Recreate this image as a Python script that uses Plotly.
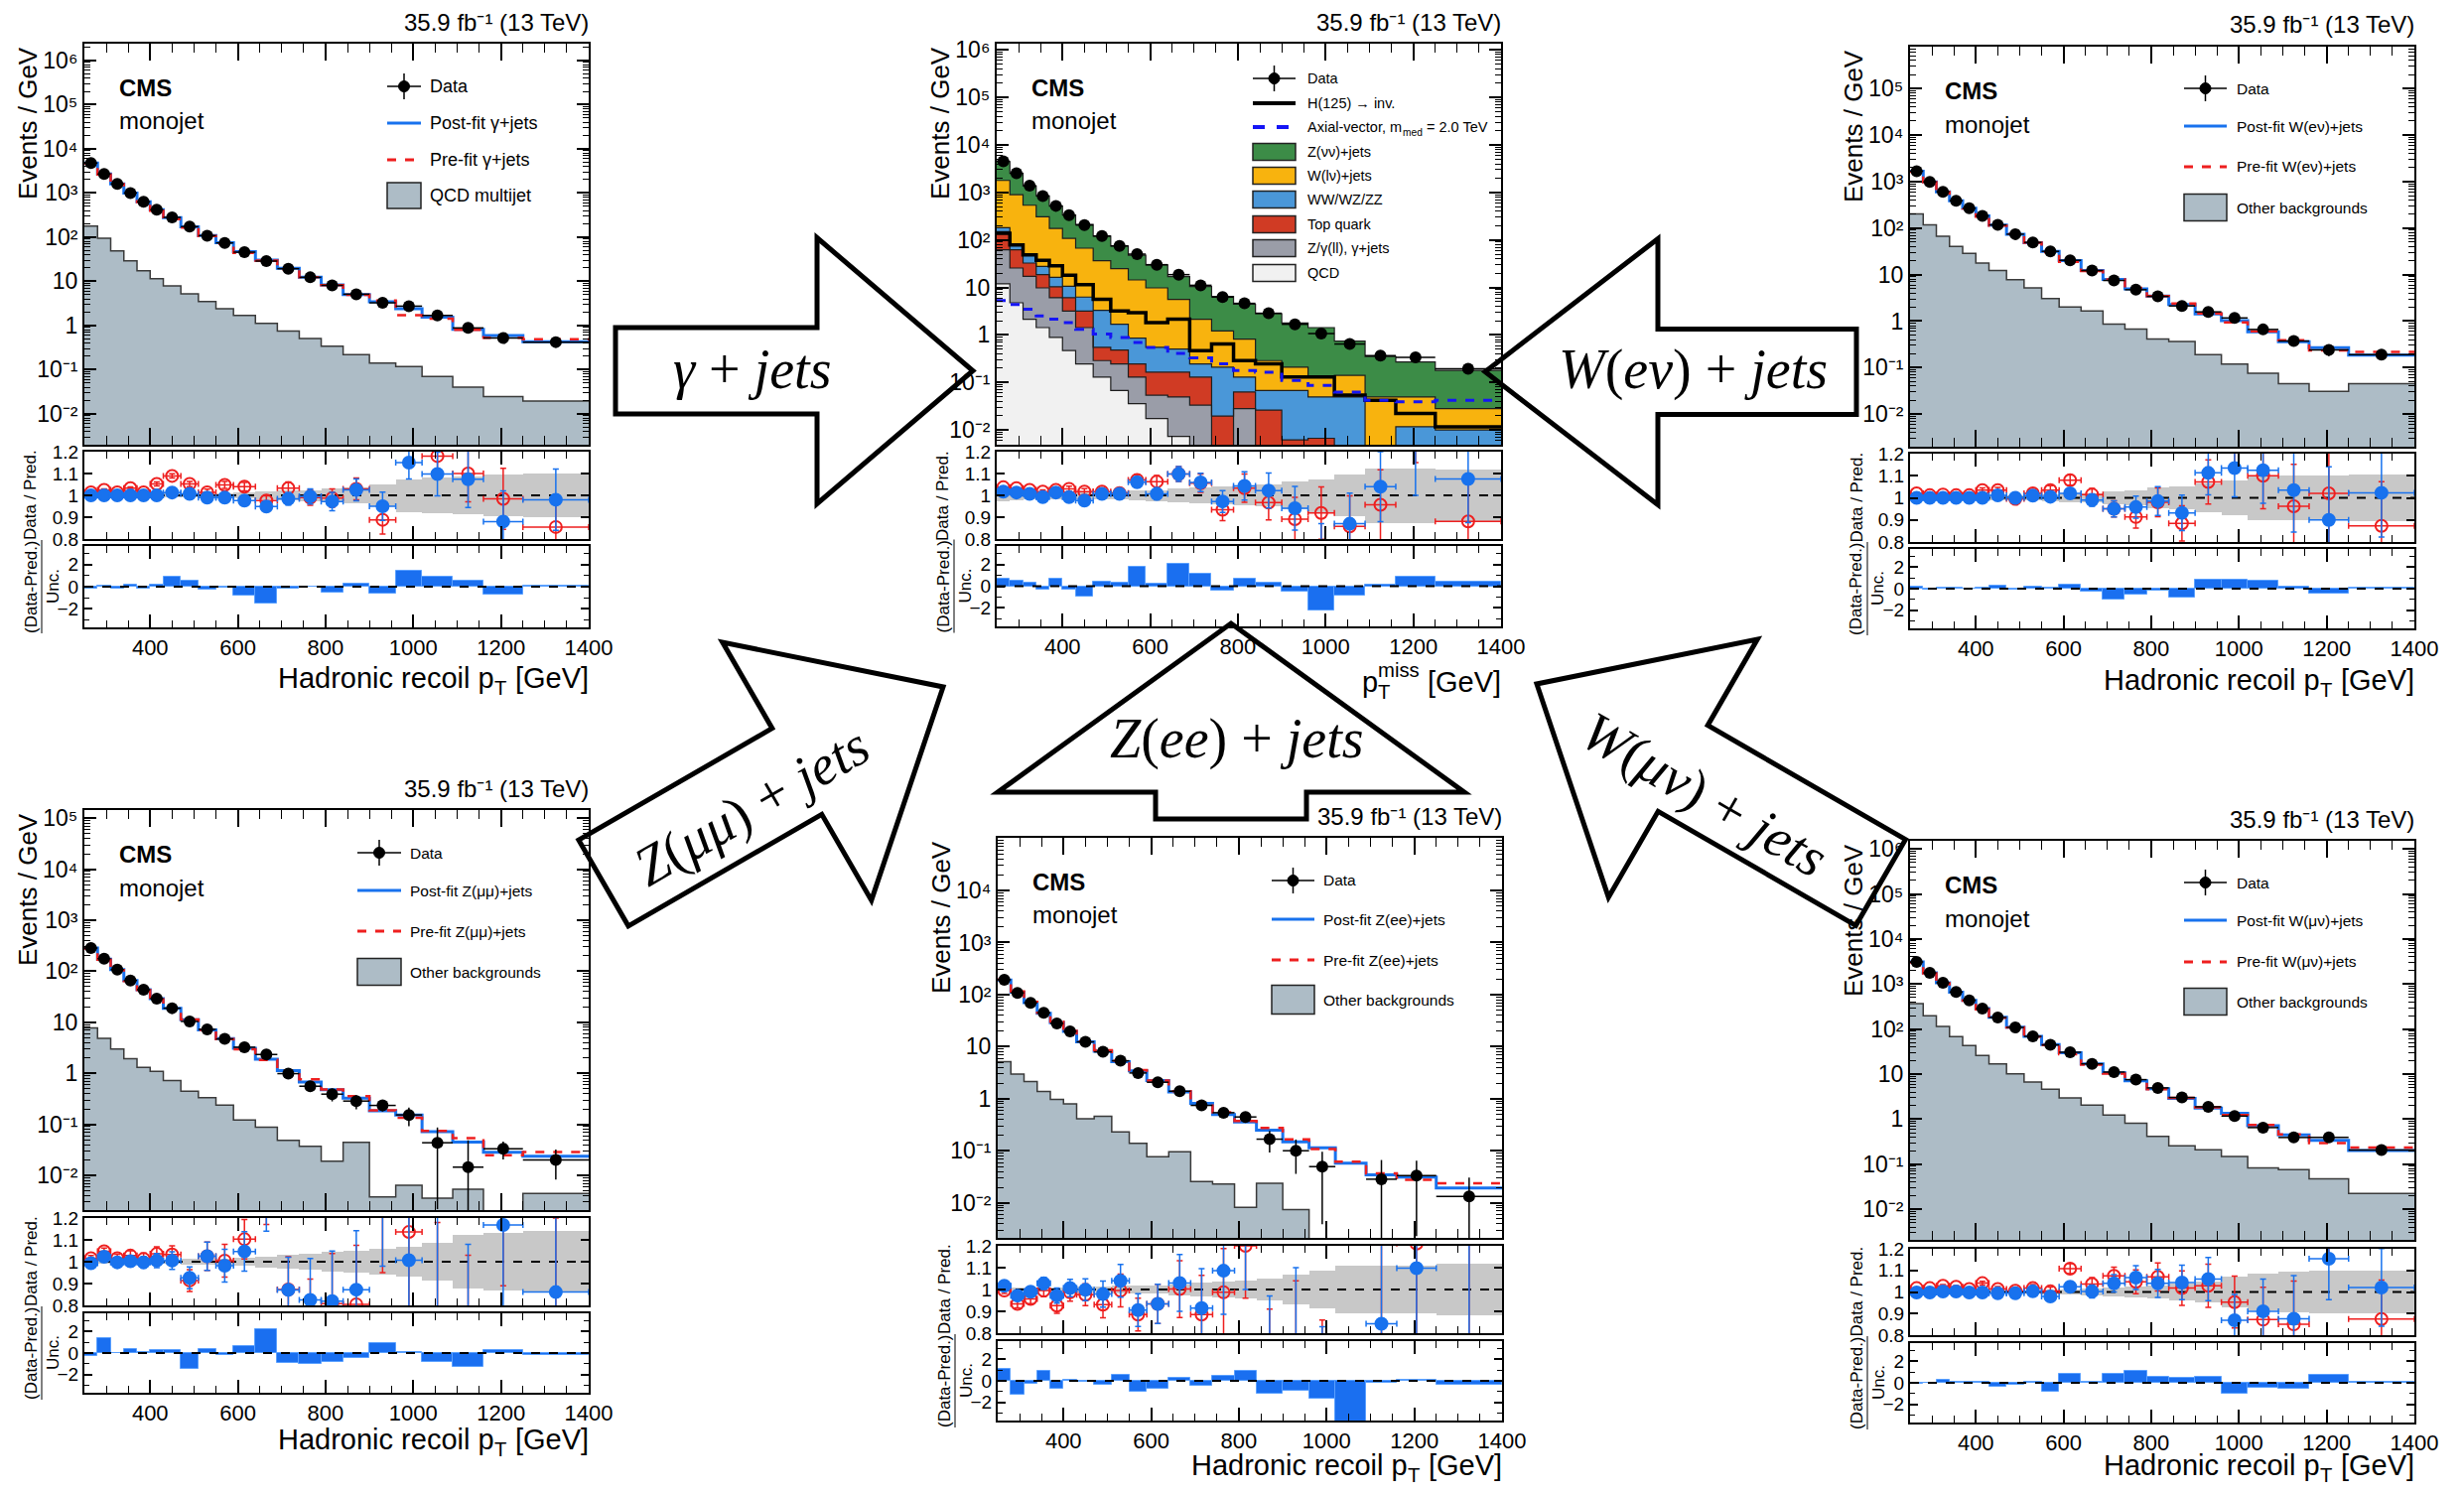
import math
import plotly.graph_objects as go

W, H = 2482, 1504

# Hadronic recoil / missing-pT binning (GeV)
EDGES = [250, 280, 310, 340, 370, 400, 430, 470, 510, 550, 590, 640,
         690, 740, 790, 840, 900, 960, 1020, 1090, 1160, 1250, 1400]
X_TICKS = [400, 600, 800, 1000, 1200, 1400]
X_TICKTEXT = ["400", "600", "800", "1000", "1200", "1400"]

# ---------------- gamma + jets control region ----------------
gj_data = [4740, 2690, 1600, 1000, 630, 416, 280, 173, 108, 74, 45.7, 28.7, 19.3, 12.3, 8.1, 5.1, 3.26, 2.74, 1.69, 0.88, 0.52, 0.42]
gj_post = [4740, 2690, 1600, 1000, 630, 416, 276, 172, 109, 75, 46.8, 30.2, 19.6, 12.4, 8.33, 4.98, 3.43, 2.38, 1.54, 0.82, 0.59, 0.43]
gj_pre = [4675, 2624, 1578, 968, 621, 395, 257, 164, 106.5, 70.6, 43.9, 29.4, 18.7, 12.4, 8.2, 4.95, 3.67, 1.71, 1.43, 0.80, 0.53, 0.49]
gj_bkg = [179, 94, 49, 29, 17.4, 11.5, 7.9, 5.2, 3.5, 2.4, 1.69, 1.12, 0.75, 0.51, 0.34, 0.22, 0.14, 0.117, 0.07, 0.04, 0.0245, 0.0194]
gj_ratio_post = [1.0, 1.0, 1.0, 1.0, 1.0, 1.0, 1.013, 1.007, 0.99, 0.99, 0.976, 0.949, 0.984, 0.995, 0.972, 1.025, 0.95, 1.15, 1.098, 1.074, 0.88, 0.98]
gj_ratio_pre = [1.014, 1.025, 1.014, 1.033, 1.014, 1.052, 1.089, 1.052, 1.014, 1.048, 1.04, 0.976, 1.033, 0.99, 0.987, 1.03, 0.888, 1.6, 1.18, 1.10, 0.984, 0.855]
gj_ratio_err = [0.003, 0.004, 0.005, 0.006, 0.007, 0.009, 0.01, 0.012, 0.014, 0.016, 0.019, 0.022, 0.028, 0.035, 0.042, 0.05, 0.065, 0.075, 0.1, 0.13, 0.14, 0.14]
gj_band = [0.005, 0.005, 0.005, 0.005, 0.005, 0.005, 0.007, 0.007, 0.007, 0.01, 0.012, 0.02, 0.022, 0.025, 0.03, 0.035, 0.05, 0.075, 0.08, 0.088, 0.095, 0.10]
gj_pull = [-0.2, 0.1, -0.15, 0.2, -0.2, 0.15, 0.9, 0.5, -0.3, -0.1, -0.8, -1.5, -0.2, 0.04, -0.5, 0.3, -0.6, 1.4, 0.9, 0.5, -0.7, 0.05]

# ---------------- signal region (stack levels are cumulative) ----------------
sr_data = [4530, 2540, 1383, 842, 521, 333, 206, 121, 75, 50.2, 30.1, 18.6, 11.1, 6.26, 4.62, 2.86, 1.68, 1.07, 0.645, 0.367, 0.339, 0.194]
sr_znn_level = [4454, 2507, 1373, 849, 514, 336, 211, 120, 74.5, 47.4, 29.9, 16.9, 10.5, 6.44, 4.43, 2.80, 1.79, 1.43, 0.741, 0.353, 0.27, 0.18]
sr_wlv_level = [1787, 897, 537, 307, 175, 108, 67, 36.5, 24.8, 14.4, 9.8, 5.6, 2.14, 1.22, 0.82, 0.289, 0.21, 0.13, 0.141, 0.0497, 0.0497, 0.0283]
sr_vv_level = [181, 81, 47, 27.7, 16.4, 10.6, 6.27, 3.30, 1.68, 0.859, 0.548, 0.506, 0.246, 0.21, 0.13, 0.068, 0.068, 0.0497, 0.0497, 0.004, 0.0117, 0.01]
sr_top_level = [149, 62, 32.6, 18.6, 10.3, 6.07, 3.19, 0.548, 0.482, 0.246, 0.165, 0.165, 0.13, 0.0196, 0.063, 0.0261, 0.0062, 0.0067, 0.003, 0.002, 0.002, 0.002]
sr_zg_level = [62, 25.6, 17.2, 9.8, 6.07, 3.19, 1.43, 0.289, 0.246, 0.13, 0.054, 0.0497, 0.0333, 0.004, 0.0283, 0.003, 0.002, 0.002, 0.001, 0.001, 0.001, 0.001]
sr_qcd = [11.9, 4.76, 2.14, 1.43, 0.887, 0.468, 0.246, 0.13, 0.068, 0.036, 0.0175, 0.0073, 0.003, 0.001, 0, 0, 0, 0, 0, 0, 0, 0]
sr_hinv = [138, 78.7, 48.6, 37, 28.7, 18, 11.5, 5.6, 3.19, 2.95, 1.82, 2.14, 0.468, 0.644, 0.289, 0.246, 0.13, 0.13, 0.054, 0.0423, 0.0223, 0.0117]
sr_axial = [5.33, 4.4, 3.46, 2.51, 2.14, 1.82, 1.32, 1.04, 0.887, 0.697, 0.548, 0.411, 0.329, 0.246, 0.179, 0.165, 0.11, 0.087, 0.063, 0.0423, 0.039, 0.0423]
sr_ratio_post = [1.017, 1.013, 1.007, 0.992, 1.013, 0.992, 0.976, 1.007, 1.007, 1.06, 1.007, 1.098, 1.059, 0.972, 1.043, 1.022, 0.941, 0.75, 0.87, 1.04, 1.25, 1.075]
sr_ratio_pre = [1.037, 1.033, 1.025, 1.017, 1.025, 1.030, 1.017, 1.017, 1.01, 1.071, 1.063, 1.098, 1.056, 0.934, 1.033, 0.967, 0.891, 0.919, 0.858, 0.957, 1.4, 0.881]
sr_ratio_err = [0.004, 0.005, 0.006, 0.008, 0.01, 0.012, 0.014, 0.017, 0.02, 0.024, 0.028, 0.034, 0.042, 0.05, 0.065, 0.08, 0.1, 0.12, 0.14, 0.16, 0.25, 0.2]
sr_band = [0.025, 0.022, 0.02, 0.02, 0.02, 0.02, 0.02, 0.02, 0.02, 0.022, 0.025, 0.03, 0.035, 0.04, 0.045, 0.05, 0.065, 0.075, 0.095, 0.125, 0.125, 0.117]
sr_pull = [0.7, 0.5, 0.3, -0.3, 0.7, -0.35, -1.0, 0.4, 0.3, 1.8, 0.2, 2.1, 1.1, -0.4, 0.65, 0.3, -0.5, -2.2, -0.85, 0.15, 0.9, 0.4]

# ---------------- W(e nu) + jets control region ----------------
we_data = [1667, 986, 603, 387, 266, 182, 117, 74, 49.2, 31.6, 20.3, 12.2, 7.48, 4.73, 3.40, 2.12, 1.58, 1.17, 0.662, 0.373, 0.24, 0.19]
we_post = [1667, 986, 603, 387, 266, 182, 115.7, 74, 48.7, 31.4, 19.9, 12.3, 7.87, 4.94, 3.45, 2.27, 1.42, 1.03, 0.588, 0.36, 0.267, 0.186]
we_pre = [1634, 974, 594, 382, 263, 176, 113, 74.4, 48.2, 30.5, 18.8, 12.0, 7.87, 5.18, 3.47, 2.40, 1.47, 0.94, 0.60, 0.388, 0.235, 0.218]
we_bkg = [201, 117, 67, 40.4, 28.7, 17.8, 12.2, 7.73, 5.2, 3.04, 2.02, 1.66, 0.861, 0.673, 0.412, 0.367, 0.19, 0.12, 0.076, 0.045, 0.031, 0.045]
we_ratio_post = [1.0, 1.0, 1.0, 1.0, 1.0, 1.0, 1.011, 1.0, 1.01, 1.005, 1.02, 0.99, 0.95, 0.958, 0.985, 0.932, 1.113, 1.135, 1.125, 1.035, 0.90, 1.023]
we_ratio_pre = [1.02, 1.012, 1.015, 1.012, 1.012, 1.035, 1.035, 0.995, 1.02, 1.035, 1.08, 1.015, 0.95, 0.913, 0.98, 0.884, 1.072, 1.25, 1.10, 0.962, 1.02, 0.873]
we_ratio_err = [0.004, 0.005, 0.006, 0.007, 0.009, 0.01, 0.012, 0.014, 0.017, 0.02, 0.023, 0.028, 0.036, 0.05, 0.065, 0.08, 0.1, 0.13, 0.15, 0.19, 0.24, 0.2]
we_band = [0.008, 0.008, 0.008, 0.008, 0.008, 0.01, 0.01, 0.012, 0.013, 0.015, 0.018, 0.022, 0.03, 0.035, 0.045, 0.05, 0.065, 0.08, 0.1, 0.1, 0.1, 0.105]
we_pull = [0.2, -0.1, 0.05, 0.05, 0.03, 0.1, 0.3, -0.05, 0.2, 0.05, 0.35, -0.3, -1.0, -0.6, -0.2, -0.8, 0.85, 0.85, 0.7, 0.15, -0.45, 0.05]

# ---------------- Z(mu mu) + jets control region ----------------
zm_data = [285, 177, 108, 66, 43.5, 29.1, 18.9, 10.4, 7.27, 4.72, 3.25, 2.34, 0.986, 0.559, 0.391, 0.286, 0.235, 0.153, 0.0436, 0.0145, 0.0333, 0.0201]
zm_post = [287, 173, 108, 65.9, 43.6, 29.0, 18.8, 11.2, 7.09, 4.81, 3.10, 1.89, 1.13, 0.678, 0.477, 0.328, 0.184, 0.152, 0.072, 0.045, 0.0285, 0.0237]
zm_pre = [280.5, 169, 106, 64.2, 42.9, 28.1, 18.3, 11.4, 7.09, 4.70, 2.95, 1.84, 1.13, 0.764, 0.484, 0.355, 0.188, 0.135, 0.0746, 0.0537, 0.0248, 0.0288]
zm_bkg = [7.8, 4.86, 3.01, 1.93, 1.31, 1.09, 0.721, 0.447, 0.332, 0.239, 0.122, 0.088, 0.0484, 0.037, 0.0189, 0.0443, 0.00378, 0.00638, 0.00357, 0.00533, 0, 0.0044]
zm_ratio_post = [0.993, 1.023, 0.997, 1.002, 0.997, 1.005, 1.005, 0.926, 1.025, 0.982, 1.047, 1.24, 0.871, 0.825, 0.819, 0.872, 1.28, 1.007, 0.61, 0.32, 1.168, 0.861]
zm_ratio_pre = [1.016, 1.048, 1.016, 1.028, 1.013, 1.036, 1.033, 0.914, 1.025, 1.005, 1.103, 1.27, 0.873, 0.73, 0.808, 0.805, 1.25, 1.136, 0.58, 0.27, 1.34, 0.70]
zm_ratio_err = [0.012, 0.015, 0.018, 0.022, 0.027, 0.032, 0.04, 0.05, 0.065, 0.075, 0.09, 0.1, 0.15, 0.19, 0.23, 0.27, 0.3, 0.4, 0.6, 0.76, 0.45, 0.5]
zm_band = [0.008, 0.008, 0.008, 0.008, 0.008, 0.01, 0.01, 0.012, 0.013, 0.015, 0.02, 0.025, 0.03, 0.035, 0.045, 0.05, 0.06, 0.07, 0.085, 0.122, 0.13, 0.14]
zm_pull = [-0.25, 1.4, 0.03, 0.35, 0.1, 0.25, 0.25, -1.45, 0.4, -0.2, 0.65, 2.2, -0.95, -1.0, -0.85, -0.5, 0.9, 0.05, -0.85, -1.3, 0.25, -0.15]

# ---------------- Z(ee) + jets control region ----------------
ze_data = [193, 108, 69.4, 44.8, 28.0, 19.7, 12.4, 7.97, 5.37, 3.13, 2.08, 1.40, 0.747, 0.541, 0.448, 0.168, 0.1007, 0.0499, 0, 0.0286, 0.0336, 0.0134]
ze_post = [190, 111, 70.1, 43.6, 28.8, 19.6, 12.4, 8.14, 5.16, 3.45, 2.23, 1.36, 0.816, 0.498, 0.36, 0.25, 0.15, 0.115, 0.0578, 0.0347, 0.0313, 0.0193]
ze_pre = [194, 115.6, 72.5, 45, 30.2, 20.0, 12.7, 8.56, 5.40, 3.54, 2.23, 1.40, 0.844, 0.548, 0.373, 0.276, 0.166, 0.108, 0.0622, 0.037, 0.0278, 0.024]
ze_bkg = [5.14, 2.99, 2.14, 1.38, 0.97, 0.803, 0.416, 0.46, 0.232, 0.139, 0.0775, 0.0964, 0.0259, 0.023, 0.00826, 0.024, 0.00746, 0, 0, 0, 0, 0]
ze_ratio_post = [1.017, 0.972, 0.99, 1.028, 0.972, 1.007, 0.999, 0.979, 1.04, 0.906, 0.934, 1.03, 0.915, 1.086, 1.24, 0.67, 0.67, 0.43, 0, 0.843, 1.098, 0.69]
ze_ratio_pre = [0.995, 0.934, 0.957, 0.995, 0.926, 0.987, 0.976, 0.931, 0.995, 0.885, 0.934, 1.002, 0.885, 0.987, 1.2, 0.61, 0.61, 0.46, 0, 0.77, 1.21, 0.56]
ze_ratio_err = [0.013, 0.018, 0.022, 0.028, 0.035, 0.04, 0.05, 0.06, 0.075, 0.075, 0.09, 0.13, 0.18, 0.2, 0.24, 0.3, 0.43, 0.4, 0, 1.1, 1.0, 0.9]
ze_band = [0.01, 0.01, 0.01, 0.01, 0.01, 0.012, 0.013, 0.015, 0.016, 0.018, 0.02, 0.025, 0.03, 0.035, 0.04, 0.05, 0.07, 0.085, 0.11, 0.11, 0.11, 0.12]
ze_pull = [1.1, -1.3, -0.25, 0.9, -0.75, 0.1, -0.05, -0.35, 0.55, -1.05, -0.75, 0.3, -0.5, 0.45, 0.9, -1.2, -0.9, -1.7, -4.0, -0.2, 0.1, -0.4]

# ---------------- W(mu nu) + jets control region ----------------
wm_data = [3090, 1770, 1067, 664, 435, 285, 181, 109, 69, 44.5, 30.6, 16.9, 11.1, 7.54, 4.94, 3.03, 1.88, 1.17, 0.65, 0.392, 0.392, 0.206]
wm_post = [3096, 1774, 1065, 663, 436, 286, 182, 110, 68.8, 45.5, 29.9, 16.9, 10.7, 7.07, 4.75, 2.90, 1.77, 1.35, 0.714, 0.447, 0.34, 0.202]
wm_pre = [3035, 1739, 1037, 648, 429, 274, 178.5, 108.3, 67.8, 44.4, 27.6, 16.3, 10.3, 7.2, 4.62, 2.98, 1.83, 1.23, 0.745, 0.461, 0.295, 0.235]
wm_bkg = [367, 197, 115, 67.8, 43, 25.9, 16.9, 10.2, 6.7, 4.62, 2.97, 2.05, 1.24, 0.81, 0.412, 0.257, 0.21, 0.149, 0.0826, 0.0759, 0.0473, 0.0225]
wm_ratio_post = [0.998, 0.998, 1.002, 1.002, 0.998, 0.998, 0.994, 0.994, 1.003, 0.979, 1.024, 1.002, 1.04, 1.067, 1.04, 1.044, 1.06, 0.869, 0.91, 0.876, 1.154, 1.021]
wm_ratio_pre = [1.018, 1.018, 1.029, 1.024, 1.014, 1.041, 1.014, 1.006, 1.018, 1.003, 1.108, 1.037, 1.075, 1.047, 1.07, 1.018, 1.029, 0.953, 0.872, 0.85, 1.33, 0.875]
wm_ratio_err = [0.003, 0.004, 0.005, 0.006, 0.007, 0.009, 0.011, 0.013, 0.016, 0.02, 0.023, 0.03, 0.04, 0.055, 0.065, 0.08, 0.1, 0.12, 0.15, 0.2, 0.19, 0.18]
wm_band = [0.005, 0.005, 0.005, 0.005, 0.005, 0.005, 0.006, 0.007, 0.008, 0.01, 0.012, 0.015, 0.02, 0.025, 0.03, 0.04, 0.05, 0.07, 0.085, 0.095, 0.1, 0.1]
wm_pull = [-0.05, 0.02, 0.3, 0.1, 0.05, 0.05, -0.4, -0.15, 0.05, -0.8, 0.8, 0.05, 0.8, 1.1, 0.6, 0.5, 0.55, -1.0, -0.5, -0.6, 0.75, 0.1]

# ---------------- styling ----------------
FONT = "Liberation Sans"
SERIF = "Liberation Serif"
C_BKG = "#adbcc6"
C_POST = "#1872ee"
C_PRE = "#ee1f1f"
C_BAND = "#c8c8c8"
C_PULL = "#1a6ff0"
C_ZNN = "#3c8c47"
C_WLV = "#f8b30e"
C_VV = "#4a97d8"
C_TOP = "#d03b24"
C_ZG = "#9a9da8"
C_QCD = "#f1f1f1"

SUPERSCRIPT = str.maketrans("0123456789-", "\u2070\u00b9\u00b2\u00b3\u2074\u2075\u2076\u2077\u2078\u2079\u207b")
LUMI = "35.9 fb" + "-1".translate(SUPERSCRIPT) + " (13 TeV)"

# Arial / Liberation Sans advance widths (1/1000 em) used to place sub/superscripts
ADV = {" ": 278, "[": 278, "]": 278, "G": 778, "e": 556, "V": 667, "T": 611, "m": 833,
       "i": 222, "s": 500, "d": 556, "p": 556}


def text_width(s, size):
    return sum(ADV[c] for c in s) * size / 1000.0


CENTERS = [(lo + hi) / 2 for lo, hi in zip(EDGES[:-1], EDGES[1:])]
WIDTHS = [hi - lo for lo, hi in zip(EDGES[:-1], EDGES[1:])]
HALF = [w / 2 for w in WIDTHS]

fig = go.Figure()
shapes = []
annotations = []
axes = {}


def P(x, y):
    """Pixel position -> paper fraction."""
    return x / W, 1 - y / H


def xdomain(l, r):
    return [l / W, r / W]


def ydomain(top, bottom):
    return [1 - bottom / H, 1 - top / H]


def ids(k):
    return ("x" if k == 1 else f"x{k}", "y" if k == 1 else f"y{k}")


def keys(k):
    return ("xaxis" if k == 1 else f"xaxis{k}", "yaxis" if k == 1 else f"yaxis{k}")


def text(x, y, s, size, xanchor="left", yanchor="middle", angle=0, family=FONT):
    ax, ay = P(x, y)
    annotations.append(dict(x=ax, y=ay, xref="paper", yref="paper", text=s, showarrow=False,
                            xanchor=xanchor, yanchor=yanchor, textangle=angle,
                            borderpad=0, borderwidth=0,
                            font=dict(family=family, size=size, color="black")))


def seg(x0, y0, x1, y1, color="black", width=1.5, dash="solid"):
    a0, b0 = P(x0, y0)
    a1, b1 = P(x1, y1)
    shapes.append(dict(type="line", xref="paper", yref="paper", x0=a0, y0=b0, x1=a1, y1=b1,
                       line=dict(color=color, width=width, dash=dash)))


def rect(x0, y0, x1, y1, fill):
    a0, b0 = P(x0, y1)
    a1, b1 = P(x1, y0)
    shapes.append(dict(type="rect", xref="paper", yref="paper", x0=a0, y0=b0, x1=a1, y1=b1,
                       fillcolor=fill, line=dict(color="#222222", width=1.5)))


def dot(xc, yc, r):
    a0, b0 = P(xc - r, yc + r)
    a1, b1 = P(xc + r, yc - r)
    shapes.append(dict(type="circle", xref="paper", yref="paper", x0=a0, y0=b0, x1=a1, y1=b1,
                       fillcolor="black", line=dict(color="black", width=1)))


def add_step(vals, xa, ya, color, width, dash="solid"):
    fig.add_trace(go.Scatter(x=EDGES, y=list(vals) + [vals[-1]], mode="lines",
                             line=dict(shape="hv", color=color, width=width, dash=dash),
                             xaxis=xa, yaxis=ya, hoverinfo="skip"))


def add_hist(vals, xa, ya, fill):
    fig.add_trace(go.Bar(x=CENTERS, y=vals, width=WIDTHS, marker=dict(color=fill, line=dict(width=0)),
                         xaxis=xa, yaxis=ya, hoverinfo="skip"))


def add_data(vals, errs, xa, ya):
    up = list(errs)
    dn = [min(e, 0.95 * v) for e, v in zip(errs, vals)]
    fig.add_trace(go.Scatter(
        x=CENTERS, y=vals, mode="markers", xaxis=xa, yaxis=ya, hoverinfo="skip",
        marker=dict(color="black", size=12),
        error_x=dict(type="data", array=HALF, color="black", thickness=1.5, width=0),
        error_y=dict(type="data", array=up, arrayminus=dn, symmetric=False,
                     color="black", thickness=1.5, width=0)))


def log_ticks(lo, hi):
    vals, txt = [], []
    for d in range(math.ceil(lo), math.floor(hi - 0.05) + 1):
        vals.append(10.0 ** d)
        if d == 0:
            txt.append("1")
        elif d == 1:
            txt.append("10")
        else:
            txt.append("10" + str(d).translate(SUPERSCRIPT))
    minor = []
    for d in range(math.floor(lo), math.ceil(hi) + 1):
        for m in range(2, 10):
            v = m * 10.0 ** d
            if lo <= math.log10(v) <= hi:
                minor.append(v)
    return vals, txt, minor


AX_COMMON = dict(showline=True, linewidth=2, linecolor="black", mirror="ticks", ticks="inside",
                 tickcolor="black", showgrid=False, zeroline=False, fixedrange=True,
                 automargin=False, tickfont=dict(family=FONT, size=22, color="black"))
MINOR_X = list(range(250, 1401, 50))


def build_axes(k0, g):
    l, r = g["x"]
    xdom = xdomain(l, r)
    # main panel
    xk, yk = keys(k0)
    xa, ya = ids(k0)
    lo, hi = g["logrange"]
    tv, tt, mv = log_ticks(lo, hi)
    axes[xk] = dict(AX_COMMON, domain=xdom, anchor=ya, range=[250, 1400], tickmode="array",
                    tickvals=X_TICKS, ticklen=17, tickwidth=1.5, showticklabels=False,
                    minor=dict(ticks="inside", ticklen=9, tickwidth=1.2, tickcolor="black",
                               tickmode="array", tickvals=MINOR_X))
    axes[yk] = dict(AX_COMMON, domain=ydomain(*g["main"]), anchor=xa,
                    type="log", range=[lo, hi], tickmode="array", tickvals=tv, ticktext=tt,
                    ticklen=12, tickwidth=1.5, tickfont=dict(family=FONT, size=23, color="black"),
                    minor=dict(ticks="inside", ticklen=6, tickwidth=1, tickcolor="black",
                               tickmode="array", tickvals=mv))
    # ratio panel
    xk, yk = keys(k0 + 1)
    xa, ya = ids(k0 + 1)
    axes[xk] = dict(AX_COMMON, domain=xdom, anchor=ya, range=[250, 1400], tickmode="array",
                    tickvals=X_TICKS, ticklen=13, tickwidth=1.5, showticklabels=False,
                    minor=dict(ticks="inside", ticklen=7, tickwidth=1.2, tickcolor="black",
                               tickmode="array", tickvals=MINOR_X))
    axes[yk] = dict(AX_COMMON, domain=ydomain(*g["ratio"]), anchor=xa,
                    range=[0.8, 1.2], tickmode="array", tickvals=[0.8, 0.9, 1.0, 1.1, 1.2],
                    ticktext=["0.8", "0.9", "1", "1.1", "1.2"], ticklen=8, tickwidth=1.5,
                    tickfont=dict(family=FONT, size=19, color="black"))
    # pull panel
    xk, yk = keys(k0 + 2)
    xa, ya = ids(k0 + 2)
    axes[xk] = dict(AX_COMMON, domain=xdom, anchor=ya, range=[250, 1400], tickmode="array",
                    tickvals=X_TICKS, ticktext=X_TICKTEXT, ticklen=13, tickwidth=1.5,
                    minor=dict(ticks="inside", ticklen=7, tickwidth=1.2, tickcolor="black",
                               tickmode="array", tickvals=MINOR_X))
    axes[yk] = dict(AX_COMMON, domain=ydomain(*g["unc"]), anchor=xa,
                    range=[-3.7, 3.7], tickmode="array", tickvals=[-2, 0, 2],
                    ticktext=["\u22122", "0", "2"], ticklen=8, tickwidth=1.5,
                    tickfont=dict(family=FONT, size=19, color="black"),
                    minor=dict(ticks="inside", ticklen=5, tickwidth=1, tickcolor="black",
                               tickmode="array", tickvals=[-3, -1, 1, 3]))


def ratio_and_pull(k0, r_post, r_pre, r_err, band, pull):
    xa, ya = ids(k0 + 1)
    fig.add_trace(go.Bar(x=CENTERS, y=[2 * u for u in band], base=[1 - u for u in band], width=WIDTHS,
                         marker=dict(color=C_BAND, line=dict(width=0)), xaxis=xa, yaxis=ya,
                         hoverinfo="skip"))
    fig.add_trace(go.Scatter(x=[250, 1400], y=[1, 1], mode="lines", xaxis=xa, yaxis=ya,
                             line=dict(color="black", width=2, dash="dash"), hoverinfo="skip"))
    for vals, color, symbol in ((r_pre, C_PRE, "circle-open"), (r_post, C_POST, "circle")):
        fig.add_trace(go.Scatter(
            x=CENTERS, y=vals, mode="markers", xaxis=xa, yaxis=ya, hoverinfo="skip",
            marker=dict(color=color, size=12, symbol=symbol, line=dict(color=color, width=2)),
            error_x=dict(type="data", array=HALF, color=color, thickness=1.5, width=3),
            error_y=dict(type="data", array=r_err, color=color, thickness=1.5, width=3)))
    xa, ya = ids(k0 + 2)
    fig.add_trace(go.Bar(x=CENTERS, y=pull, width=WIDTHS,
                         marker=dict(color=C_PULL, line=dict(color="#5aa0ff", width=1)),
                         xaxis=xa, yaxis=ya, hoverinfo="skip"))
    fig.add_trace(go.Scatter(x=[250, 1400], y=[0, 0], mode="lines", xaxis=xa, yaxis=ya,
                             line=dict(color="black", width=2, dash="dash"), hoverinfo="skip"))


def axis_title(r, y, lead, sub, sup=None, size=29):
    """Right-aligned '<lead>_{sub}^{sup} [GeV]' built from plain text pieces."""
    small = 0.7 * size
    gev_left = r - text_width("[GeV]", size)
    stack_w = max(text_width(sub, small), text_width(sup, small) if sup else 0.0)
    stack_left = gev_left - text_width(" ", size) - stack_w
    text(r, y, "[GeV]", size, xanchor="right")
    text(stack_left, y + 0.36 * size, sub, small)
    if sup:
        text(stack_left, y - 0.4 * size, sup, small)
    text(stack_left, y, lead, size, xanchor="right")


def labels(g, lead, sup=None):
    l, r = g["x"]
    top = g["main"][0]
    text(r, top - 22, LUMI, 24, xanchor="right")
    text(l + 35, top + 44, "<b>CMS</b>", 24)
    text(l + 35, top + 78, "monojet", 24)
    text(l - 57, top + 80, "Events / GeV", 26, xanchor="center", angle=-90)
    rc = (g["ratio"][0] + g["ratio"][1]) / 2
    uc = (g["unc"][0] + g["unc"][1]) / 2
    text(l - 54, rc, "Data / Pred.", 17, xanchor="center", angle=-90)
    text(l - 54, uc, "(Data-Pred.)", 17, xanchor="center", angle=-90)
    text(l - 32, uc, "Unc.", 17, xanchor="center", angle=-90)
    seg(l - 43, uc - 47, l - 43, uc + 47, "black", 1)
    axis_title(r, g["xtitle_y"], lead, "T", sup)


def legend(entries, gx0, gx1, tx, rows, size, box_hh):
    xc = (gx0 + gx1) / 2
    for (kind, label, style), y in zip(entries, rows):
        if kind == "data":
            seg(gx0, y, gx1, y, "black", 1.5)
            seg(xc, y - 13, xc, y + 13, "black", 1.5)
            dot(xc, y, 5.5)
        elif kind == "line":
            color, width, dash = style
            seg(gx0, y, gx1, y, color, width, dash)
        else:
            rect(gx0, y - box_hh, gx1, y + box_hh, style)
        if label is not None:
            text(tx, y, label, size)


GEOM = {
    "gj": dict(x=(85, 593), main=(44, 448), ratio=(455, 543), unc=(550, 632), logrange=(-2.70, 6.38), xtitle_y=683),
    "sr": dict(x=(1004, 1512), main=(44, 448), ratio=(455, 543), unc=(550, 631), logrange=(-2.31, 6.13), xtitle_y=687),
    "we": dict(x=(1924, 2432), main=(47, 450), ratio=(457, 546), unc=(553, 633), logrange=(-2.70, 5.90), xtitle_y=685),
    "zm": dict(x=(85, 593), main=(816, 1219), ratio=(1227, 1315), unc=(1323, 1403), logrange=(-2.68, 5.16), xtitle_y=1450),
    "ze": dict(x=(1005, 1513), main=(844, 1247), ratio=(1255, 1343), unc=(1351, 1431), logrange=(-2.67, 5.01), xtitle_y=1476),
    "wm": dict(x=(1924, 2432), main=(847, 1249), ratio=(1258, 1345), unc=(1353, 1433), logrange=(-2.68, 6.18), xtitle_y=1476),
}

CONTROL = [
    ("gj", 1, gj_data, gj_post, gj_pre, gj_bkg, gj_ratio_post, gj_ratio_pre, gj_ratio_err, gj_band, gj_pull,
     ["Post-fit \u03b3+jets", "Pre-fit \u03b3+jets", "QCD multijet"],
     (390, 424, 433, [87, 124, 161, 197], 18, 13)),
    ("we", 7, we_data, we_post, we_pre, we_bkg, we_ratio_post, we_ratio_pre, we_ratio_err, we_band, we_pull,
     ["Post-fit W(e\u03bd)+jets", "Pre-fit W(e\u03bd)+jets", "Other backgrounds"],
     (2200, 2243, 2253, [89, 127, 168, 209], 15.5, 13.5)),
    ("zm", 10, zm_data, zm_post, zm_pre, zm_bkg, zm_ratio_post, zm_ratio_pre, zm_ratio_err, zm_band, zm_pull,
     ["Post-fit Z(\u03bc\u03bc)+jets", "Pre-fit Z(\u03bc\u03bc)+jets", "Other backgrounds"],
     (360, 404, 413, [859, 897, 938, 979], 15.5, 13.5)),
    ("ze", 13, ze_data, ze_post, ze_pre, ze_bkg, ze_ratio_post, ze_ratio_pre, ze_ratio_err, ze_band, ze_pull,
     ["Post-fit Z(ee)+jets", "Pre-fit Z(ee)+jets", "Other backgrounds"],
     (1281, 1324, 1333, [887, 926, 967, 1007], 15.5, 14.5)),
    ("wm", 16, wm_data, wm_post, wm_pre, wm_bkg, wm_ratio_post, wm_ratio_pre, wm_ratio_err, wm_band, wm_pull,
     ["Post-fit W(\u03bc\u03bd)+jets", "Pre-fit W(\u03bc\u03bd)+jets", "Other backgrounds"],
     (2200, 2243, 2253, [889, 927, 969, 1009], 15.5, 13.5)),
]

# ---------------- control regions ----------------
for (name, k0, data, post, pre, bkg, r_post, r_pre, r_err, band, pull, leg_labels, lg) in CONTROL:
    g = GEOM[name]
    build_axes(k0, g)
    xa, ya = ids(k0)
    add_hist(bkg, xa, ya, C_BKG)
    add_step(bkg, xa, ya, "#3a3a3a", 1.5)
    add_step(post, xa, ya, C_POST, 3)
    add_step(pre, xa, ya, C_PRE, 2.5, "dash")
    add_data(data, [e * p for e, p in zip(r_err, post)], xa, ya)
    ratio_and_pull(k0, r_post, r_pre, r_err, band, pull)
    labels(g, "Hadronic recoil p")
    gx0, gx1, tx, rows, size, hh = lg
    legend([("data", "Data", None),
            ("line", leg_labels[0], (C_POST, 3, "solid")),
            ("line", leg_labels[1], (C_PRE, 3, "dash")),
            ("box", leg_labels[2], C_BKG)], gx0, gx1, tx, rows, size, hh)

# ---------------- signal region ----------------
g = GEOM["sr"]
build_axes(4, g)
xa, ya = ids(4)
STACK = [(sr_znn_level, C_ZNN), (sr_wlv_level, C_WLV), (sr_vv_level, C_VV),
         (sr_top_level, C_TOP), (sr_zg_level, C_ZG), (sr_qcd, C_QCD)]
for vals, color in STACK:
    add_hist(vals, xa, ya, color)
for vals, color in STACK:
    add_step(vals, xa, ya, "#1e1e1e", 1.2)
add_step(sr_hinv, xa, ya, "black", 3.5)
add_step(sr_axial, xa, ya, "#1515f5", 3, "dash")
add_data(sr_data, [e * t for e, t in zip(sr_ratio_err, sr_znn_level)], xa, ya)
ratio_and_pull(4, sr_ratio_post, sr_ratio_pre, sr_ratio_err, sr_band, sr_pull)
labels(g, "p", sup="miss")
SR_LEG_Y = [79, 104, 128, 153, 177, 201, 226, 250, 275]
legend([("data", "Data", None),
        ("line", "H(125) \u2192 inv.", ("black", 4, "solid")),
        ("line", None, ("#1515f5", 4, "dash")),
        ("box", "Z(\u03bd\u03bd)+jets", C_ZNN),
        ("box", "W(l\u03bd)+jets", C_WLV),
        ("box", "WW/WZ/ZZ", C_VV),
        ("box", "Top quark", C_TOP),
        ("box", "Z/\u03b3(ll), \u03b3+jets", C_ZG),
        ("box", "QCD", C_QCD)],
       1262, 1305, 1317, SR_LEG_Y, 14.5, 8.5)
# axial-vector entry with its mediator-mass subscript
_lead = "Axial-vector, m"
_lead_w = 6612 * 14.5 / 1000.0
text(1317, SR_LEG_Y[2], _lead, 14.5)
text(1317 + _lead_w, SR_LEG_Y[2] + 6, "med", 10.2)
text(1317 + _lead_w + text_width("med", 10.2) + text_width(" ", 14.5), SR_LEG_Y[2], "= 2.0 TeV", 14.5)


# ---------------- block arrows linking the control regions ----------------
def block_arrow(tail, tip, shaft_hw, head_hw, head_len):
    tx, ty = tail
    px_, py_ = tip
    length = math.hypot(px_ - tx, py_ - ty)
    ux, uy = (px_ - tx) / length, (py_ - ty) / length
    nx, ny = -uy, ux
    bx, by = px_ - ux * head_len, py_ - uy * head_len
    pts = [(tx + nx * shaft_hw, ty + ny * shaft_hw), (bx + nx * shaft_hw, by + ny * shaft_hw),
           (bx + nx * head_hw, by + ny * head_hw), (px_, py_),
           (bx - nx * head_hw, by - ny * head_hw), (bx - nx * shaft_hw, by - ny * shaft_hw),
           (tx - nx * shaft_hw, ty - ny * shaft_hw)]
    path = "M " + " L ".join("{:.5f},{:.5f}".format(*P(x, y)) for x, y in pts) + " Z"
    shapes.append(dict(type="path", xref="paper", yref="paper", path=path,
                       fillcolor="rgba(0,0,0,0)", line=dict(color="black", width=5)))


def along(tip, angle_deg, dist):
    a = math.radians(angle_deg)
    return (tip[0] - math.cos(a) * dist, tip[1] + math.sin(a) * dist)


block_arrow((620, 373.5), (980, 373.5), 43.5, 134, 157)
text(757, 372, "<i>\u03b3</i> + <i>jets</i>", 56, xanchor="center", family=SERIF)

block_arrow((1870, 374.5), (1496, 374.5), 43, 134, 174)
text(1705, 372, "<i>W</i>(<i>e\u03bd</i>) + <i>jets</i>", 56, xanchor="center", family=SERIF)

block_arrow((1240, 825), (1240, 628), 76, 235, 170)
text(1246, 744, "<i>Z</i>(<i>ee</i>) + <i>jets</i>", 56, xanchor="center", family=SERIF)

zmm_tip = (950, 692)
block_arrow(along(zmm_tip, 30, 395), zmm_tip, 50, 150, 170)
text(757, 812, "<i>Z</i>(<i>\u03bc\u03bc</i>) + <i>jets</i>", 56, xanchor="center", angle=-30, family=SERIF)

wmn_tip = (1548, 689)
block_arrow(along(wmn_tip, 150, 400), wmn_tip, 50, 150, 170)
text(1717, 800, "<i>W</i>(<i>\u03bc\u03bd</i>) + <i>jets</i>", 56, xanchor="center", angle=30, family=SERIF)

fig.update_layout(
    width=W, height=H, margin=dict(l=0, r=0, t=0, b=0, autoexpand=False),
    paper_bgcolor="white", plot_bgcolor="rgba(0,0,0,0)",
    showlegend=False, barmode="overlay", bargap=0,
    font=dict(family=FONT, color="black"),
    shapes=shapes, annotations=annotations, **axes)

fig.write_html("out.html")
